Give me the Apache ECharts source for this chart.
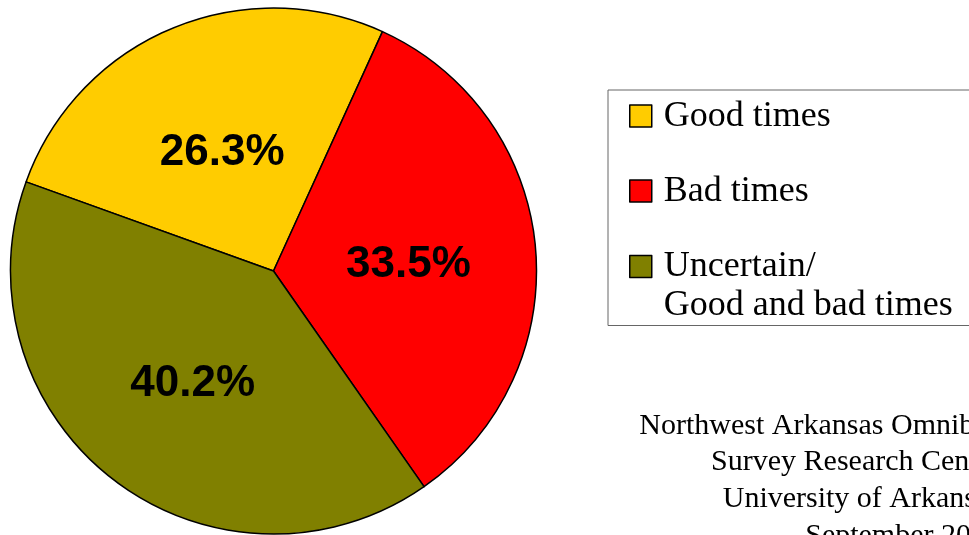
<!DOCTYPE html>
<html>
<head>
<meta charset="utf-8">
<script src="https://cdn.jsdelivr.net/npm/echarts@6/dist/echarts.min.js"></script>
<style>
  html, body { margin: 0; padding: 0; background: #fff; }
  #pieMain { width: 969px; height: 535px; }
</style>
</head>
<body>
<div id="pieMain"></div>
<script>
// answers and shares (%), clockwise from the left edge
var answerNames = ['Good times', 'Bad times', 'Uncertain/\nGood and bad times'];
var answerShares = [26.3, 33.5, 40.2];
var answerColors = ['#FFCC00', '#FF0000', '#808000'];
var sourceLines = ['Northwest Arkansas Omnibus', 'Survey Research Center', 'University of Arkansas', 'September 2008'];

var serif = '"Liberation Serif", "Times New Roman", serif';
var sans = '"Liberation Sans", Arial, sans-serif';

var chartDom = document.getElementById('pieMain');
var myChart = echarts.init(chartDom);

var pieData = [];
for (var i = 0; i < answerNames.length; i++) {
    pieData.push({
        name: answerNames[i],
        value: answerShares[i],
        itemStyle: {color: answerColors[i]}
    });
}

// source note, right aligned lines under the legend
var sourceText = [];
for (var j = 0; j < sourceLines.length; j++) {
    sourceText.push({
        type: 'text',
        x: 1001,
        y: 426 + j * 36.6,
        style: {
            text: sourceLines[j],
            font: '30px ' + serif,
            fill: '#000',
            align: 'right',
            textAlign: 'right',
            verticalAlign: 'middle',
            textVerticalAlign: 'middle'
        }
    });
}

var option = {
    backgroundColor: '#fff',
    animation: false,
    legend: {
        orient: 'vertical',
        left: 608,
        top: 90,
        padding: [6.5, 40, 2, 21],
        borderColor: '#666',
        borderWidth: 1,
        itemGap: 36,
        itemWidth: 22,
        itemHeight: 22,
        icon: 'rect',
        selectedMode: false,
        itemStyle: {borderColor: '#000', borderWidth: 1.5},
        data: answerNames,
        formatter: function (name) {
            // second line hangs below so the square stays next to the first line
            var parts = name.split('\n');
            if (parts.length > 1) {
                return parts[0] + '\n{sub|' + parts[1] + '}';
            }
            return name;
        },
        textStyle: {
            fontFamily: serif,
            fontSize: 36,
            lineHeight: 37,
            color: '#000',
            padding: [2, 0, 0, 7],
            rich: {
                sub: {
                    fontFamily: serif,
                    fontSize: 36,
                    lineHeight: 1,
                    verticalAlign: 'top',
                    padding: [2, 0, 0, 0],
                    color: '#000'
                }
            }
        }
    },
    graphic: sourceText,
    series: [{
        type: 'pie',
        center: [273.5, 271],
        radius: 263,
        startAngle: 160.2,
        clockwise: true,
        data: pieData,
        itemStyle: {borderColor: '#000', borderWidth: 1.5},
        label: {
            position: 'inside',
            formatter: '{c}%',
            fontFamily: sans,
            fontWeight: 'bold',
            fontSize: 44,
            color: '#000',
            offset: [1, 6]
        },
        labelLine: {show: false},
        emphasis: {disabled: true}
    }]
};

option && myChart.setOption(option);
</script>
</body>
</html>
